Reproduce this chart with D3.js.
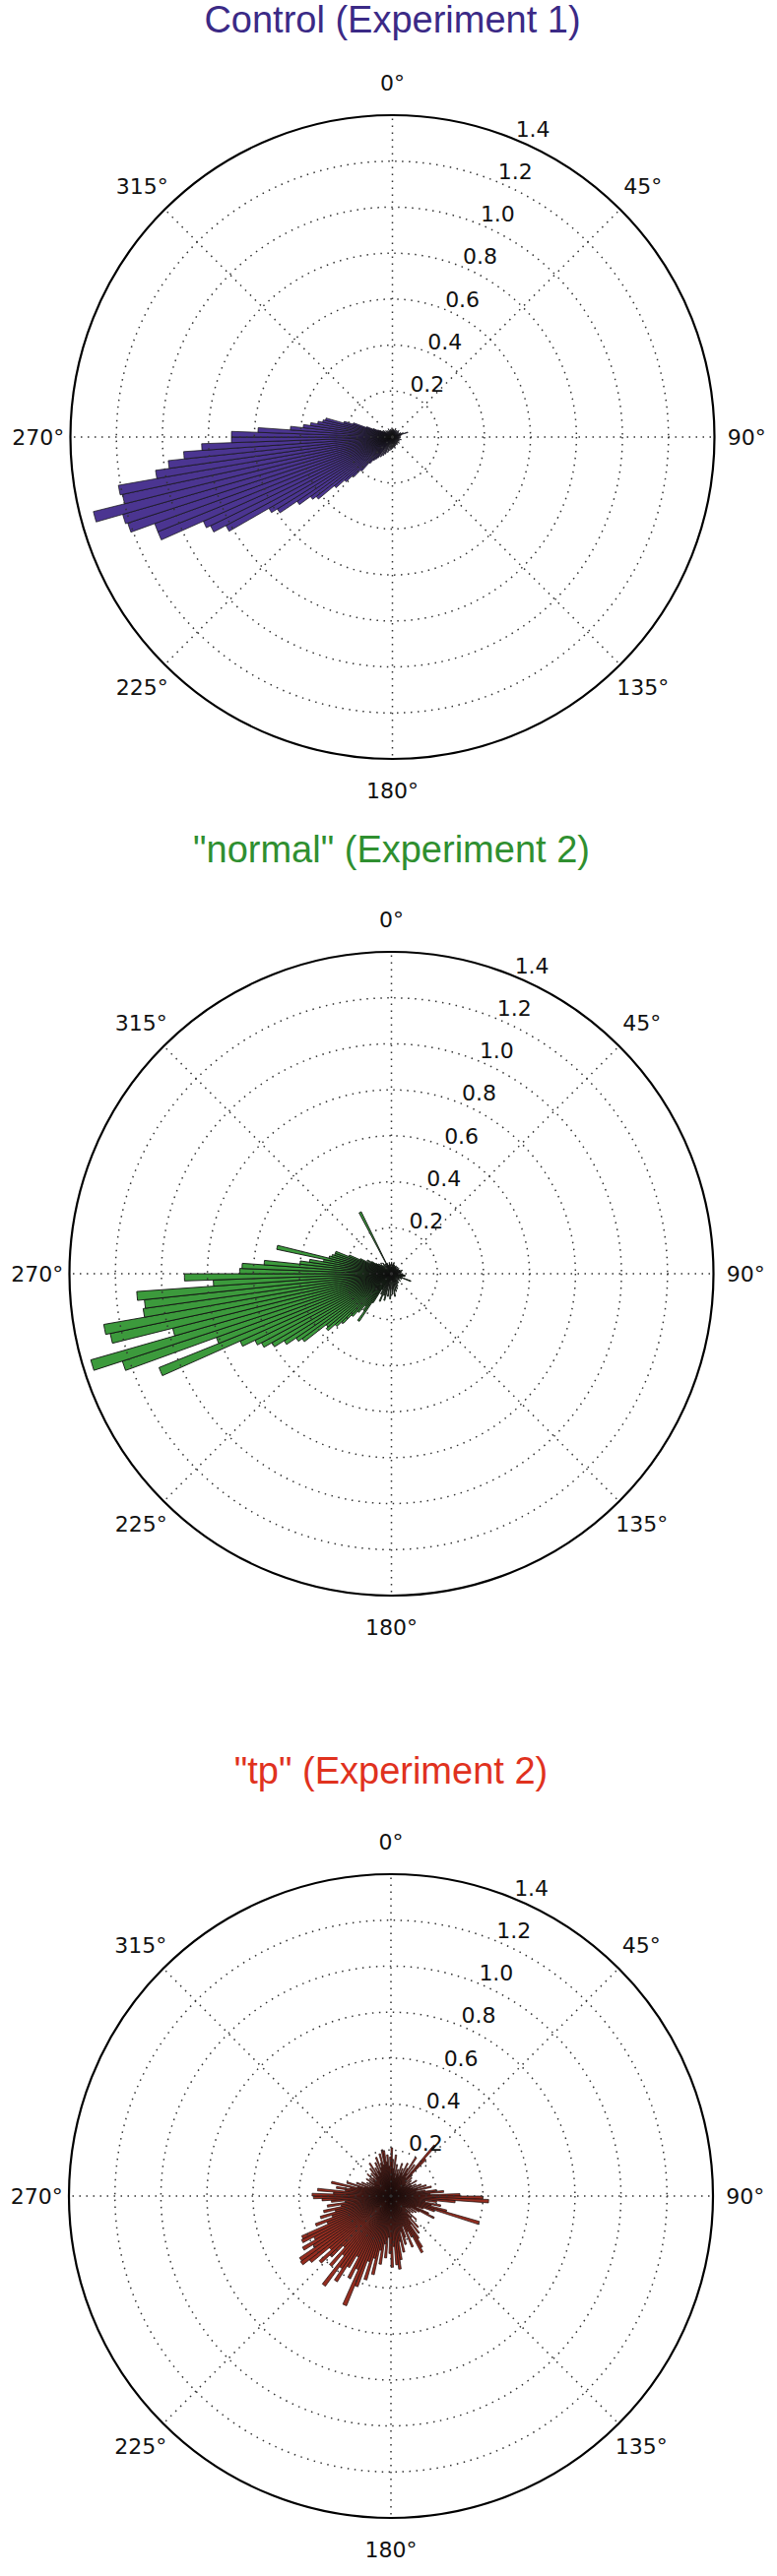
<!DOCTYPE html>
<html>
<head>
<meta charset="utf-8">
<title>Polar histograms</title>
<script src="https://cdn.jsdelivr.net/npm/d3@7"></script>
<style>
  body { margin: 0; background: #fff; }
  .grid { fill: none; stroke: #333; stroke-width: 1.5; stroke-dasharray: 1.5 5.5; }
  .frame { fill: none; stroke: #000; stroke-width: 2.2; }
  .tick { font-family: "DejaVu Sans", sans-serif; font-size: 22px; fill: #111; }
  .title { font-family: "Liberation Sans", Arial, sans-serif; font-size: 38px; text-anchor: middle; }
</style>
</head>
<body>
<svg id="chart" width="789" height="2617"></svg>
<script>

// ---- data (bin centre in degrees, bar length) ----
const titles = ["Control (Experiment 1)", "\"normal\" (Experiment 2)", "\"tp\" (Experiment 2)"];
const thetaTicks = [0, 45, 90, 135, 180, 225, 270, 315];
const rTicks = [0.2, 0.4, 0.6, 0.8, 1.0, 1.2, 1.4];
const binWidth = 2;

// Control
const angles1 = [221, 223, 225, 227, 229, 231, 233, 235, 237, 239, 241, 243, 245, 247, 249, 251, 253, 255, 257, 259,
                 261, 263, 265, 267, 269, 271, 273, 275, 277, 279, 281, 283, 285, 287, 289, 291, 293, 295,
                 297, 299, 301, 305, 309, 313, 317, 321, 327, 333, 339, 345, 351, 357, 3, 9, 15, 21, 27, 33, 39,
                 45, 51, 57, 63, 69, 73, 77, 83, 89, 95, 101, 107, 113, 119, 125, 131, 137, 143, 149, 155, 161,
                 167, 173, 179, 185, 191, 197, 203, 207, 211, 215, 217, 219];
const values1 = [0.15, 0.2, 0.24, 0.28, 0.33, 0.42, 0.44, 0.5, 0.59, 0.62, 0.82, 0.88, 0.9, 1.1, 1.1, 1.21, 1.22, 1.34, 1.2, 1.21,
                 1.04, 0.98, 0.91, 0.83, 0.70, 0.70, 0.585, 0.445, 0.39, 0.36, 0.33, 0.31, 0.30, 0.22, 0.18, 0.12, 0.09, 0.07,
                 0.06, 0.05, 0.04, 0.05, 0.03, 0.04, 0.03, 0.035, 0.03, 0.04, 0.03, 0.035, 0.03, 0.04, 0.03, 0.035, 0.03, 0.04, 0.03, 0.035, 0.03,
                 0.04, 0.035, 0.03, 0.04, 0.05, 0.07, 0.04, 0.035, 0.03, 0.035, 0.03, 0.04, 0.03, 0.035, 0.03, 0.04, 0.03, 0.035, 0.04, 0.035, 0.04,
                 0.05, 0.045, 0.05, 0.055, 0.06, 0.07, 0.08, 0.09, 0.1, 0.11, 0.12, 0.13];

// "normal"
const angles2 = [211, 213, 215, 217, 219, 221, 223, 225, 227, 229, 231, 233, 235, 237, 239, 241, 243, 245, 247, 249,
                 251, 253, 255, 257, 259, 261, 263, 265, 267, 269, 271, 273, 275, 277, 279, 281, 283, 285, 287, 289,
                 291, 293, 295, 297, 299, 301, 303, 307, 311, 315, 321, 327, 333, 337, 343, 349, 355, 1, 7, 13, 19,
                 25, 31, 37, 43, 49, 55, 61, 67, 73, 79, 85, 91, 97, 101, 105, 111, 117, 123, 129, 135, 141, 147,
                 153, 159, 165, 171, 177, 183, 189, 195, 199, 203, 207];
const values2 = [0.08, 0.15, 0.25, 0.2, 0.18, 0.22, 0.25, 0.3, 0.33, 0.37, 0.36, 0.48, 0.5, 0.55, 0.6, 0.64, 0.66, 0.72, 1.09, 0.81,
                 1.23, 1.36, 0.98, 1.25, 1.27, 1.09, 1.08, 1.11, 0.775, 0.9, 0.66, 0.65, 0.555, 0.4, 0.36, 0.3, 0.51, 0.28, 0.27, 0.26,
                 0.26, 0.2, 0.15, 0.1, 0.12, 0.1, 0.08, 0.07, 0.06, 0.05, 0.06, 0.05, 0.30, 0.05, 0.04, 0.05, 0.04, 0.05, 0.04, 0.05, 0.04,
                 0.035, 0.04, 0.035, 0.04, 0.03, 0.04, 0.035, 0.04, 0.05, 0.045, 0.04, 0.05, 0.06, 0.06, 0.05, 0.09, 0.05, 0.04, 0.05, 0.04, 0.05, 0.05,
                 0.06, 0.07, 0.08, 0.1, 0.09, 0.11, 0.1, 0.12, 0.1, 0.13, 0.1];

// "tp": one bar in every 2-degree bin, starting at 1 degree
const angles3 = d3.range(1, 360, binWidth);
const values3 = [0.21, 0.16, 0.12, 0.18, 0.1, 0.14, 0.08, 0.12, 0.1, 0.15, 0.09, 0.13, 0.11, 0.16, 0.1,
                 0.14, 0.2, 0.12, 0.17, 0.1, 0.29, 0.22, 0.13, 0.09, 0.12, 0.08, 0.11, 0.07, 0.1, 0.13,
                 0.08, 0.1, 0.12, 0.09, 0.14, 0.1, 0.16, 0.12, 0.18, 0.11, 0.15, 0.2, 0.23, 0.17, 0.3,
                 0.40, 0.425, 0.28, 0.2, 0.15, 0.22, 0.18, 0.25, 0.40, 0.2, 0.15, 0.12, 0.18, 0.21, 0.14,
                 0.1, 0.13, 0.09, 0.12, 0.08, 0.11, 0.15, 0.1, 0.13, 0.18, 0.12, 0.2, 0.15, 0.22, 0.26,
                 0.28, 0.2, 0.17, 0.24, 0.14, 0.19, 0.22, 0.16, 0.25, 0.2, 0.28, 0.32, 0.3, 0.22, 0.31,
                 0.25, 0.18, 0.27, 0.21, 0.3, 0.24, 0.35, 0.28, 0.38, 0.3, 0.42, 0.515, 0.35, 0.4, 0.3,
                 0.36, 0.44, 0.38, 0.485, 0.33, 0.4, 0.3, 0.37, 0.42, 0.35, 0.45, 0.486, 0.48, 0.4, 0.445,
                 0.38, 0.433, 0.425, 0.3, 0.35, 0.27, 0.32, 0.25, 0.3, 0.22, 0.28, 0.2, 0.26, 0.3, 0.337,
                 0.343, 0.25, 0.32, 0.2, 0.24, 0.18, 0.265, 0.15, 0.2, 0.12, 0.16, 0.1, 0.14, 0.09, 0.12,
                 0.08, 0.11, 0.13, 0.09, 0.12, 0.1, 0.14, 0.11, 0.09, 0.13, 0.1, 0.15, 0.12, 0.17, 0.1,
                 0.14, 0.12, 0.16, 0.11, 0.18, 0.13, 0.15, 0.19, 0.14, 0.205, 0.2, 0.15, 0.18, 0.13, 0.17];

// ---- layout ----
const svg = d3.select("#chart");
const R = 327;
const panels = [
  { angles: angles1, values: values1, cx: 398.5, cy: 444,  titleY: 33,   titleColor: "#3b2a86", fill: "#4b3591", edge: "#111", edgeW: 0.7 },
  { angles: angles2, values: values2, cx: 397.5, cy: 1294, titleY: 876,  titleColor: "#2f8f30", fill: "#3c9a3c", edge: "#111", edgeW: 0.9 },
  { angles: angles3, values: values3, cx: 397,   cy: 2231, titleY: 1812, titleColor: "#e0321e", fill: "#952d20", edge: "#1a0d0b", edgeW: 0.7 }
];

const angle = d3.scaleLinear().domain([0, 360]).range([0, 2 * Math.PI]);
const radius = d3.scaleLinear().domain([0, 1.4]).range([0, R]);
const arc = d3.arc().innerRadius(0);

panels.forEach((p, i) => {
  svg.append("text").attr("class", "title")
     .attr("x", p.cx).attr("y", p.titleY)
     .attr("fill", p.titleColor)
     .text(titles[i]);

  const g = svg.append("g").attr("transform", "translate(" + p.cx + "," + p.cy + ")");

  const bars = p.angles.map((a, j) => ({ a: a, v: p.values[j] }));
  g.selectAll("path.bar").data(bars)
   .join("path").attr("class", "bar")
   .attr("d", d => arc({ outerRadius: radius(d.v),
                         startAngle: angle(d.a - binWidth / 2),
                         endAngle: angle(d.a + binWidth / 2) }))
   .attr("fill", p.fill)
   .attr("stroke", p.edge)
   .attr("stroke-width", p.edgeW);

  // rings and spokes sit on top of the bars, like the original
  g.selectAll("circle.grid").data(rTicks.slice(0, -1))
   .join("circle").attr("class", "grid")
   .attr("r", d => radius(d));
  g.selectAll("line.grid").data(thetaTicks)
   .join("line").attr("class", "grid")
   .attr("x1", 0).attr("y1", 0)
   .attr("x2", d => R * Math.sin(angle(d)))
   .attr("y2", d => -R * Math.cos(angle(d)));
  g.append("circle").attr("class", "frame").attr("r", R);

  g.selectAll("text.theta").data(thetaTicks)
   .join("text").attr("class", "tick theta")
   .attr("x", d => 1.1 * R * Math.sin(angle(d)))
   .attr("y", d => -1.1 * R * Math.cos(angle(d)))
   .attr("text-anchor", "middle")
   .attr("dominant-baseline", "central")
   .text(d => d + "°");

  const rAng = angle(22.5);
  g.selectAll("text.rlab").data(rTicks)
   .join("text").attr("class", "tick rlab")
   .attr("x", d => radius(d) * Math.sin(rAng))
   .attr("y", d => -radius(d) * Math.cos(rAng) - 3)
   .attr("text-anchor", "start")
   .text(d => d3.format(".1f")(d));
});

</script>
</body>
</html>
